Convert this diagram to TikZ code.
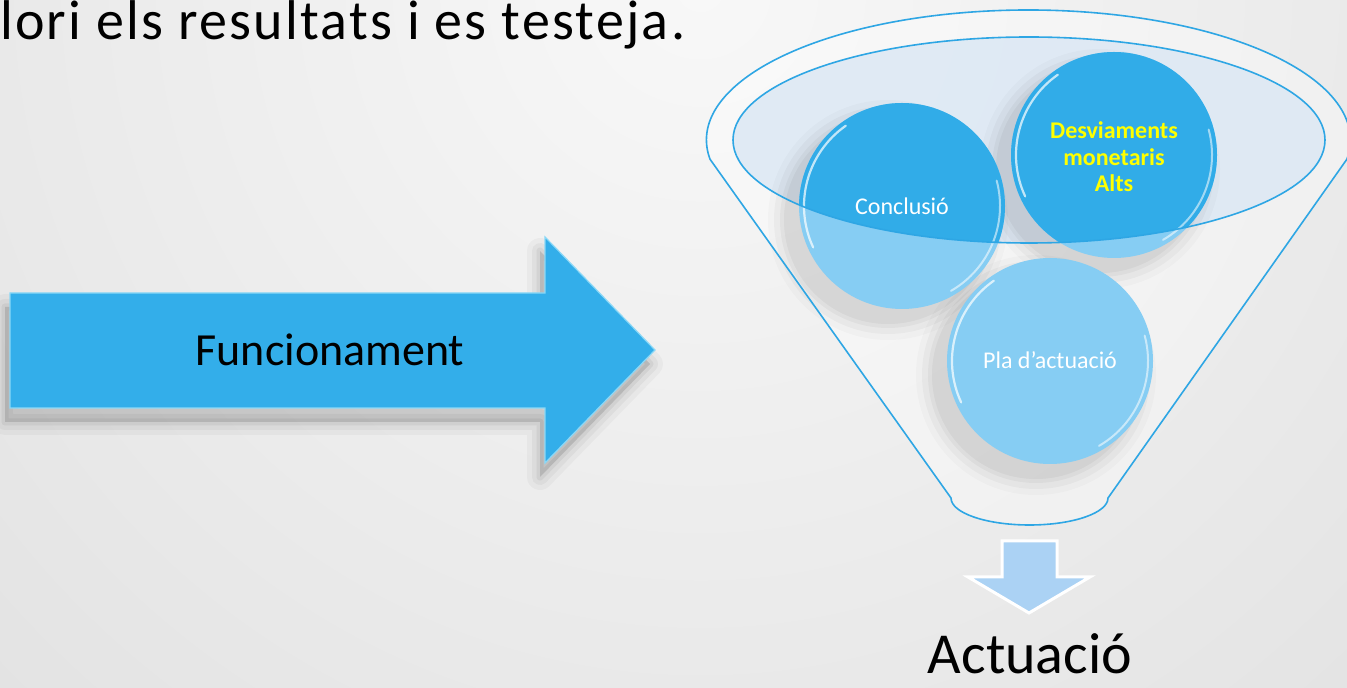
\documentclass[tikz,border=0pt]{standalone}
\usepackage{fontspec}
\setmainfont{Carlito}
\newfontfamily\titlefont[LetterSpace=4]{Carlito}
\usetikzlibrary{positioning}
\definecolor{bgLight}{HTML}{F8F8F8}
\definecolor{bgDark}{HTML}{D2D2D2}
\definecolor{arrowBlue}{HTML}{33AEEA}
\definecolor{arrowEdge}{HTML}{8AD8F7}
\definecolor{funnelLine}{HTML}{2EA6E4}
\definecolor{darkBlue}{HTML}{31ACE8}
\definecolor{lightBlue}{HTML}{86CDF3}
\definecolor{ellFill}{HTML}{DCE8F4}
\definecolor{downBlue}{HTML}{ABD2F4}
\definecolor{deviYellow}{HTML}{FFFF00}
\tikzset{
  circtext/.style={text=white, font=\fontsize{24}{26.5}\selectfont, align=center, inner sep=0pt},
  funnelstroke/.style={draw=funnelLine, line width=1.6pt}
}
\begin{document}
\begin{tikzpicture}[x=1pt, y=1pt]
\useasboundingbox (0,0) rectangle (1347,688);
\clip (0,0) rectangle (1347,688);
% Background
\shade[inner color=bgLight, outer color=bgDark] (-1100,-1100) rectangle (2500,2500);
% Title line, cut at the left
\node[anchor=base west, inner sep=0pt, font=\titlefont\fontsize{56}{62}\selectfont] (title) at (0,648) {lori els resultats i es testeja.};
% Define the shapes
\def\arrowR{(10,395) -- (545,395) -- (545,451) -- (655,338) -- (545,225) -- (545,280) -- (10,280) -- cycle}
\def\arrowD{(1002,147) -- (1057,147) -- (1057,111) -- (1090,111) -- (1029,75) -- (968,111) -- (1002,111) -- cycle}
\def\funnel{(710,528.8) arc[start angle=188.5, end angle=-8.5, x radius=322pt, y radius=130pt] -- (1108,190) arc[start angle=0, end angle=-180, x radius=78.5pt, y radius=27pt] -- cycle}
\def\funnelTop{(1029,548) ellipse [x radius=296pt, y radius=103pt]}
\def\circConcl{(902,482) circle [radius=103pt]}
\def\circDesv{(1114,533) circle [radius=103pt]}
\def\circPla{(1050,327) circle [radius=103pt]}
% Shadow of the big arrow
\begin{scope}[shift={(-5,-14)}]
\foreach \w/\o in {26/0.03, 16/0.04, 7/0.05}
  \draw[black, opacity=\o, line width=\w pt, line join=round] \arrowR;
\fill[black, opacity=0.12] \arrowR;
\end{scope}
% Big arrow
\fill[arrowBlue] \arrowR;
\draw[arrowEdge, line width=1.2pt] \arrowR;
\node[font=\fontsize{46}{52}\selectfont, inner sep=0pt] (func) at (330,338) {Funcionament};
% Funnel body
\fill[white, opacity=0.35] \funnel;
\fill[ellFill, opacity=0.85] \funnelTop;
% Shadows of the circles
\foreach \cx/\cy in {902/482, 1114/533, 1050/327}
  \foreach \r/\o in {120/0.02, 114/0.03, 108/0.035, 104/0.04}
    \fill[black, opacity=\o] (\cx-14,\cy-14) circle [radius=\r pt];
% Circles, lighter below the top of the funnel
\fill[lightBlue] \circConcl;
\fill[lightBlue] \circDesv;
\fill[lightBlue] \circPla;
\begin{scope}
\clip \funnelTop;
\fill[darkBlue] \circConcl;
\fill[darkBlue] \circDesv;
\end{scope}
% Shade on top of the lower circle
\begin{scope}
\clip \circPla;
\fill[black, opacity=0.07] (1114,548) circle [radius=125pt];
\end{scope}
% Glass rims
\foreach \cx/\cy in {902/482, 1114/533, 1050/327} {
  \draw[white, opacity=0.7, line width=2.2pt, line cap=round] (\cx,\cy) ++(125:98) arc[start angle=125, end angle=205, radius=98pt];
  \draw[white, opacity=0.55, line width=2pt, line cap=round] (\cx,\cy) ++(-60:98) arc[start angle=-60, end angle=15, radius=98pt];
}
% Outlines of the funnel
\draw[funnelstroke] \funnelTop;
\draw[funnelstroke] \funnel;
% Texts of the circles
\node[circtext] (concl) at (902,482) {Conclusió};
\node[circtext, text=deviYellow, font=\bfseries\fontsize{24}{26.5}\selectfont] (desv) at (1114,531) {Desviaments\\monetaris\\Alts};
\node[circtext] (pla) at (1050,328) {Pla d’actuació};
% Down arrow and result
\filldraw[fill=downBlue, draw=white, line width=3pt] \arrowD;
\node[anchor=base, inner sep=0pt, font=\fontsize{58}{66}\selectfont] (act) at (1030,14) {Actuació};
\end{tikzpicture}
\end{document}
